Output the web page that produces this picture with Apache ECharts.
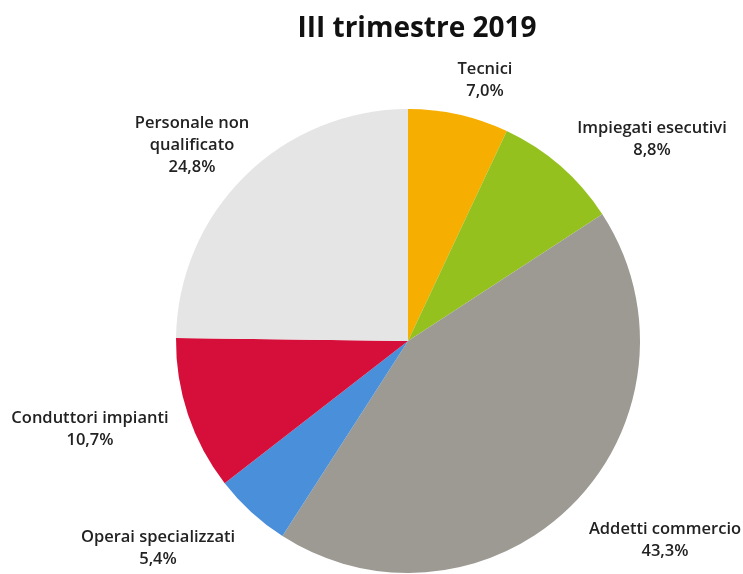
<!DOCTYPE html>
<html>
<head>
<meta charset="utf-8">
<script src="https://cdn.jsdelivr.net/npm/echarts@6/dist/echarts.min.js"></script>
<style>
  html, body { margin: 0; padding: 0; background: #fff; }
  #chart { width: 743px; height: 574px; }
</style>
</head>
<body>
<div id="chart"></div>
<script>
// dati del grafico
var categorie = ['Tecnici', 'Impiegati esecutivi', 'Addetti commercio', 'Operai specializzati', 'Conduttori impianti', 'Personale non\nqualificato'];
var valori = [7.0, 8.8, 43.3, 5.4, 10.7, 24.8];
var colori = ['#F6AF00', '#95C11F', '#9C9A92', '#4A8FD9', '#D50F39', '#E5E5E5'];
// posizione (centro) delle etichette
var posEtichette = [[485, 80], [652, 139], [665, 540], [158, 548], [90, 429], [192, 145]];

var myChart = echarts.init(document.getElementById('chart'));

var dati = [];
for (var i = 0; i < categorie.length; i++) {
  dati.push({ name: categorie[i], value: valori[i], itemStyle: { color: colori[i] } });
}

var option = {
  animation: false,
  title: {
    text: 'III trimestre 2019',
    left: 412,
    top: 10,
    textAlign: 'center',
    textStyle: { fontFamily: 'Open Sans', fontWeight: 'bold', fontSize: 28, color: '#111' }
  },
  series: [{
    type: 'pie',
    center: [408, 341],
    radius: 232,
    startAngle: 90,
    clockwise: true,
    data: dati,
    itemStyle: { borderWidth: 0 },
    label: {
      show: true,
      position: 'outside',
      fontFamily: 'Open Sans',
      fontWeight: 600,
      fontSize: 16.5,
      lineHeight: 22,
      color: '#222',
      align: 'center',
      overflow: 'none',
      formatter: function (p) {
        return p.name + '\n' + p.value.toFixed(1).replace('.', ',') + '%';
      }
    },
    labelLine: { show: false },
    labelLayout: function (p) {
      var pos = posEtichette[p.dataIndex];
      return { x: pos[0], y: pos[1], align: 'center', verticalAlign: 'middle' };
    }
  }]
};
myChart.setOption(option);
</script>
</body>
</html>
